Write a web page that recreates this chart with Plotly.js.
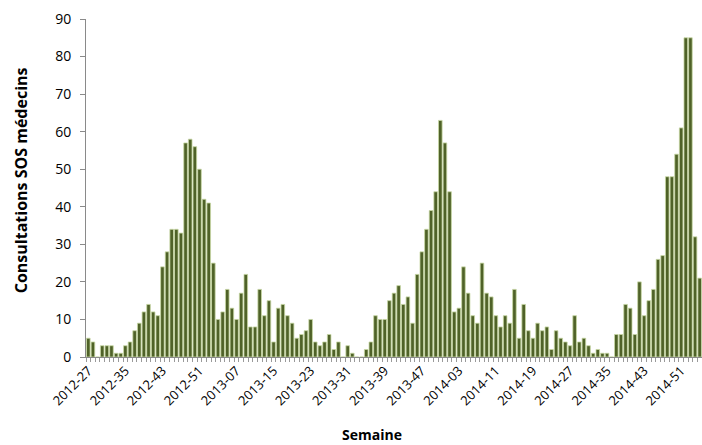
<!DOCTYPE html>
<html>
<head>
<meta charset="utf-8">
<script src="https://cdn.plot.ly/plotly-3.0.1.min.js"></script>
<style>html,body{margin:0;padding:0;background:#fff;}#chart{width:702px;height:445px;}</style>
</head>
<body>
<div id="chart"></div>
<script>
const weeks = [
 "2012-27","2012-28","2012-29","2012-30","2012-31","2012-32","2012-33","2012-34","2012-35","2012-36","2012-37","2012-38","2012-39","2012-40","2012-41","2012-42","2012-43","2012-44","2012-45","2012-46","2012-47","2012-48","2012-49","2012-50","2012-51","2012-52",
 "2013-01","2013-02","2013-03","2013-04","2013-05","2013-06","2013-07","2013-08","2013-09","2013-10","2013-11","2013-12","2013-13","2013-14","2013-15","2013-16","2013-17","2013-18","2013-19","2013-20","2013-21","2013-22","2013-23","2013-24","2013-25","2013-26","2013-27","2013-28","2013-29","2013-30","2013-31","2013-32","2013-33","2013-34","2013-35","2013-36","2013-37","2013-38","2013-39","2013-40","2013-41","2013-42","2013-43","2013-44","2013-45","2013-46","2013-47","2013-48","2013-49","2013-50","2013-51","2013-52",
 "2014-01","2014-02","2014-03","2014-04","2014-05","2014-06","2014-07","2014-08","2014-09","2014-10","2014-11","2014-12","2014-13","2014-14","2014-15","2014-16","2014-17","2014-18","2014-19","2014-20","2014-21","2014-22","2014-23","2014-24","2014-25","2014-26","2014-27","2014-28","2014-29","2014-30","2014-31","2014-32","2014-33","2014-34","2014-35","2014-36","2014-37","2014-38","2014-39","2014-40","2014-41","2014-42","2014-43","2014-44","2014-45","2014-46","2014-47","2014-48","2014-49","2014-50","2014-51","2014-52",
 "2015-01","2015-02","2015-03"
];
const consultations = [
 5,4,0,3,3,3,1,1,3,4,7,9,12,14,12,11,24,28,34,34,33,57,58,56,50,42,
 41,25,10,12,18,13,10,17,22,8,8,18,11,15,4,13,14,11,9,5,6,7,10,4,3,4,6,2,4,0,3,1,0,0,2,4,11,10,10,15,17,19,14,16,9,22,28,34,39,44,63,57,
 44,12,13,24,17,11,9,25,17,16,11,8,11,9,18,5,14,7,5,9,7,8,2,7,5,4,3,11,4,5,3,1,2,1,1,0,6,6,14,13,6,20,11,15,18,26,27,48,48,54,61,85,
 85,32,21
];
const tickLabels = ["2012-27","2012-35","2012-43","2012-51","2013-07","2013-15","2013-23","2013-31","2013-39","2013-47","2014-03","2014-11","2014-19","2014-27","2014-35","2014-43","2014-51"];
const yTitle = "Consultations SOS médecins";
const xTitle = "Semaine";

const trace = {
  type: "bar",
  x: weeks,
  y: consultations,
  marker: {color: "#4F6228", line: {color: "#c9d9a6", width: 0.8}},
  hoverinfo: "x+y"
};

const layout = {
  width: 702, height: 445,
  margin: {l: 86, r: 0, t: 19, b: 88},
  paper_bgcolor: "#ffffff", plot_bgcolor: "#ffffff",
  showlegend: false,
  bargap: 0.22,
  font: {family: "Open Sans, Noto Sans, sans-serif", color: "#000000"},
  xaxis: {
    type: "category",
    range: [-0.5, weeks.length - 0.5],
    tickmode: "array",
    tickvals: weeks,
    ticktext: weeks.map(w => tickLabels.includes(w) ? w : ""),
    tickangle: -45,
    tickfont: {size: 13, family: "Open Sans, sans-serif", color: "#000"},
    ticks: "outside", ticklen: 4, tickcolor: "#9a9a9a", tickwidth: 1,
    tickson: "boundaries",
    showline: true, linecolor: "#8a8a8a", linewidth: 1,
    showgrid: false, zeroline: false
  },
  yaxis: {
    range: [0, 90],
    dtick: 10,
    tickfont: {size: 14, family: "Open Sans, sans-serif", color: "#000"},
    ticks: "outside", ticklen: 5, tickcolor: "#8a8a8a",
    ticklabelstandoff: 6,
    showline: true, linecolor: "#8a8a8a", linewidth: 1,
    showgrid: false, zeroline: false
  },
  annotations: [
    {text: "<b>" + yTitle + "</b>", xref: "paper", yref: "paper", x: -0.106, y: 0.522,
     textangle: -90, showarrow: false, xanchor: "center", yanchor: "middle",
     font: {size: 16, family: "Open Sans, sans-serif", color: "#000"}},
    {text: "<b>" + xTitle + "</b>", xref: "paper", yref: "paper", x: 0.464, y: -0.228,
     showarrow: false, xanchor: "center", yanchor: "middle",
     font: {size: 14, family: "Open Sans, sans-serif", color: "#000"}}
  ]
};

Plotly.newPlot("chart", [trace], layout, {displayModeBar: false, staticPlot: true});
</script>
</body>
</html>
